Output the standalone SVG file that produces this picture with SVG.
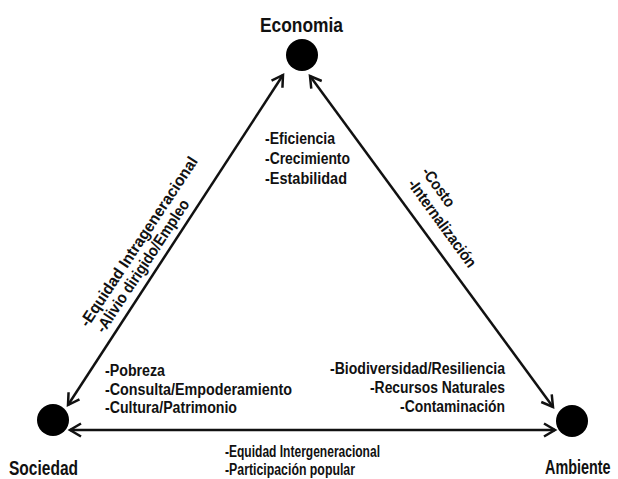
<svg xmlns="http://www.w3.org/2000/svg" width="618" height="479" viewBox="0 0 618 479">
<style>
.lbl{font-family:"Liberation Sans",Arial,sans-serif;font-weight:bold;fill:#111}
.big{font-size:20px}
.sm{font-size:16px}
.conn{stroke:#111;stroke-width:2.5;fill:none;marker-start:url(#ah);marker-end:url(#ah)}
</style>
<defs>
<marker id="ah" markerUnits="userSpaceOnUse" viewBox="-13 -8 16 16" refX="0" refY="0" markerWidth="16" markerHeight="16" orient="auto-start-reverse">
<path d="M-11,-6.5 L0,0 L-11,6.5" fill="none" stroke="#111" stroke-width="2.5"/>
</marker>
</defs>
<rect width="618" height="479" fill="#fff"/>
<g id="connectors">
<line class="conn" x1="283" y1="75" x2="68" y2="405"/>
<line class="conn" x1="310" y1="76" x2="553" y2="407"/>
<line class="conn" x1="70" y1="430" x2="555" y2="430"/>
</g>
<g id="economia">
<circle cx="302" cy="55" r="16" fill="#000"/>
<text class="lbl big" x="260" y="32" textLength="83" lengthAdjust="spacingAndGlyphs">Economia</text>
</g>
<g id="sociedad">
<circle cx="53" cy="420" r="16" fill="#000"/>
<text class="lbl big" x="9" y="475" textLength="69" lengthAdjust="spacingAndGlyphs">Sociedad</text>
</g>
<g id="ambiente">
<circle cx="572" cy="421" r="16" fill="#000"/>
<text class="lbl big" transform="translate(545,474) scale(0.72,1)" x="0" y="0">Ambiente</text>
</g>
<g id="economia-labels">
<text class="lbl sm" x="265" y="144" textLength="70" lengthAdjust="spacingAndGlyphs">-Eficiencia</text>
<text class="lbl sm" x="265" y="164" textLength="85" lengthAdjust="spacingAndGlyphs">-Crecimiento</text>
<text class="lbl sm" x="265" y="184" textLength="82" lengthAdjust="spacingAndGlyphs">-Estabilidad</text>
</g>
<g id="sociedad-labels">
<text class="lbl sm" x="105" y="376" textLength="60" lengthAdjust="spacingAndGlyphs">-Pobreza</text>
<text class="lbl sm" x="105" y="395" textLength="187" lengthAdjust="spacingAndGlyphs">-Consulta/Empoderamiento</text>
<text class="lbl sm" x="105" y="413" textLength="132" lengthAdjust="spacingAndGlyphs">-Cultura/Patrimonio</text>
</g>
<g id="ambiente-labels">
<text class="lbl sm" x="330" y="374" textLength="175" lengthAdjust="spacingAndGlyphs">-Biodiversidad/Resiliencia</text>
<text class="lbl sm" x="370" y="393" textLength="135" lengthAdjust="spacingAndGlyphs">-Recursos Naturales</text>
<text class="lbl sm" x="400" y="412" textLength="105" lengthAdjust="spacingAndGlyphs">-Contaminación</text>
</g>
<g id="bottom-labels">
<text class="lbl sm" x="225" y="457" textLength="155" lengthAdjust="spacingAndGlyphs">-Equidad Intergeneracional</text>
<text class="lbl sm" x="225" y="475" textLength="130" lengthAdjust="spacingAndGlyphs">-Participación popular</text>
</g>
<g id="left-labels">
<text class="lbl sm" transform="translate(88,328) rotate(-56.5)" textLength="200" lengthAdjust="spacingAndGlyphs">-Equidad Intrageneracional</text>
<text class="lbl sm" transform="translate(104,334) rotate(-56.5)" textLength="156" lengthAdjust="spacingAndGlyphs">-Alivio dirigido/Empleo</text>
</g>
<g id="right-labels">
<text class="lbl sm" transform="translate(421,172) rotate(54)" textLength="45" lengthAdjust="spacingAndGlyphs">-Costo</text>
<text class="lbl sm" transform="translate(407,184) rotate(54)" textLength="105" lengthAdjust="spacingAndGlyphs">-Internalización</text>
</g>
</svg>
